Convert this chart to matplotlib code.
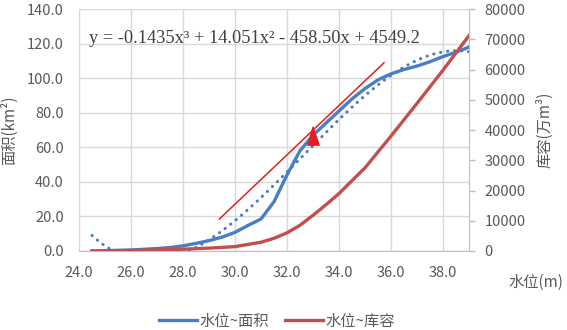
import numpy as np
import matplotlib
matplotlib.use('Agg')
import matplotlib.pyplot as plt
from matplotlib.ticker import FormatStrFormatter, MultipleLocator

plt.rcParams['font.family'] = ['Noto Sans CJK SC', 'DejaVu Sans']

# water level (m)
level = [24.5, 25.0, 25.5, 26.0, 26.5, 27.0, 27.5, 28.0, 28.5, 29.0, 29.5, 30.0,
         30.5, 31.0, 31.5, 32.0, 32.5, 33.0, 33.5, 34.0, 34.5, 35.0, 35.5, 36.0,
         36.5, 37.0, 37.5, 38.0, 38.5, 39.0]
# surface area (km2)
area = [0.0, 0.2, 0.4, 0.6, 1.0, 1.4, 2.0, 3.0, 4.4, 6.0, 8.0, 10.8,
        14.8, 18.5, 28.5, 44.0, 58.0, 67.0, 74.0, 81.0, 88.0, 94.0, 99.0, 102.5,
        105.0, 107.0, 109.5, 112.5, 115.0, 118.0]

# storage (10^4 m3)
level_s = [24.5, 25.0, 26.0, 27.0, 28.0, 29.0, 30.0, 31.0, 31.5, 32.0, 32.5,
           33.0, 33.5, 34.0, 35.0, 36.0, 37.0, 38.0, 39.0]
storage = [0, 50, 150, 350, 600, 950, 1450, 2900, 4200, 6000, 8500,
           11800, 15300, 19000, 27500, 38000, 48800, 59800, 71200]

# hand-drawn tangent line and arrow head (in area units)
tangent_x = [29.4, 35.73]
tangent_y = [18.5, 108.9]
arrow_x = [33.0]
arrow_y = [66.5]

equation = 'y = -0.1435x³ + 14.051x² - 458.50x + 4549.2'

blue = '#4A7EC4'
dark_red = '#C0504D'
bright_red = '#E31E1E'
grey_txt = '#595959'

fig = plt.figure(figsize=(5.67, 3.30), dpi=100)
ax = fig.add_axes([0.1393, 0.2394, 0.8272 - 0.1393, 0.9727 - 0.2394])
ax2 = ax.twinx()

# polynomial trend line (order 3) fitted to the area data
coef = np.polyfit(level, area, 3)
xs = np.linspace(level[0], level[-1], 300)
ax.plot(xs, np.polyval(coef, xs), color=blue, lw=2.2, ls=(0, (0.1, 2.2)),
        dash_capstyle='round', zorder=3)

ax.plot(level, area, color=blue, lw=2.4, zorder=4, label='水位~面积')
ax.plot(tangent_x, tangent_y, color=bright_red, lw=1.1, zorder=5)
ax.plot(arrow_x, arrow_y, ls='none', color=bright_red, ms=13.5,
        marker=[(-0.62, -1), (-0.05, 1), (0.62, -1)], zorder=6)

ax2.plot(level_s, storage, color=dark_red, lw=2.4, label='水位~库容')

ax.set_xlim(24, 39)
ax.set_ylim(0, 140)
ax2.set_ylim(0, 80000)
ax.yaxis.set_major_locator(MultipleLocator(20))
ax2.yaxis.set_major_locator(MultipleLocator(10000))
ax.xaxis.set_major_formatter(FormatStrFormatter('%.1f'))
ax.yaxis.set_major_formatter(FormatStrFormatter('%.1f'))
ax.set_xticks(np.arange(24, 39, 2))

ax.grid(True, color='#D9D9D9', lw=1.0)
ax.set_axisbelow(True)
ax.spines['top'].set_visible(False)
ax2.spines['top'].set_visible(False)
ax.spines['left'].set_color('#D9D9D9')
ax.spines['bottom'].set_color('#BFBFBF')
ax2.spines['right'].set_color('#BFBFBF')
ax2.spines['left'].set_visible(False)
ax2.spines['bottom'].set_visible(False)
ax.spines['right'].set_visible(False)

ax.tick_params(axis='both', length=0, labelsize=10.5, labelcolor=grey_txt)
ax.tick_params(axis='x', pad=11)
ax.tick_params(axis='y', pad=11)
ax2.tick_params(axis='y', length=4, color='#BFBFBF', width=1, labelsize=10.5,
                labelcolor=grey_txt, pad=7)

ax.set_ylabel('面积(km²)', fontsize=11, color=grey_txt, labelpad=6)
ax2.set_ylabel('库容(万m³)', fontsize=11, color=grey_txt, labelpad=8)
fig.text(536 / 567, 1 - 282 / 330, '水位(m)', fontsize=11, color=grey_txt,
         ha='center', va='center')

ax.text(0.026, 0.878, equation, transform=ax.transAxes, fontsize=13.2,
        family='Liberation Serif', color='#404040', va='center', ha='left')

h1, l1 = ax.get_legend_handles_labels()
h2, l2 = ax2.get_legend_handles_labels()
fig.legend([h1[-1]] + h2, [l1[-1]] + l2, loc='center', ncol=2,
           bbox_to_anchor=(277 / 567, 1 - 321 / 330), frameon=False,
           fontsize=11, labelcolor=grey_txt, handlelength=2.5,
           handletextpad=0.2, columnspacing=1.0)

fig.savefig('out.png', dpi=100)
